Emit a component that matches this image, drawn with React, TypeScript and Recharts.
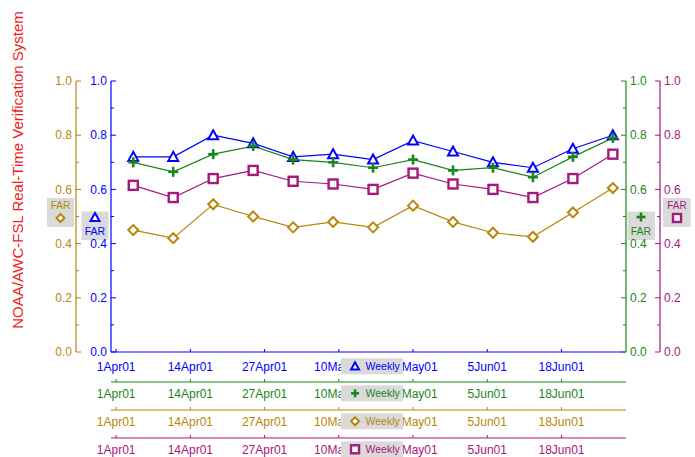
import React from "react";
import { LineChart, Line, XAxis, YAxis, Customized } from "recharts";

// days counted from 1 Apr 2001
const weekDays = [3, 10, 17, 24, 31, 38, 45, 52, 59, 66, 73, 80, 87];
const tickDays = [0, 13, 26, 39, 52, 65, 78];
const tickLabels = ["1Apr01", "14Apr01", "27Apr01", "10May01", "23May01", "5Jun01", "18Jun01"];
const yTicks = [0, 0.1, 0.2, 0.3, 0.4, 0.5, 0.6, 0.7, 0.8, 0.9, 1.0];

const farTriangle = [0.72, 0.72, 0.8, 0.77, 0.72, 0.73, 0.71, 0.78, 0.74, 0.7, 0.68, 0.75, 0.8];
const farPlus = [0.7, 0.665, 0.73, 0.76, 0.71, 0.7, 0.68, 0.71, 0.67, 0.68, 0.645, 0.72, 0.79];
const farSquare = [0.615, 0.57, 0.64, 0.67, 0.63, 0.62, 0.6, 0.66, 0.62, 0.6, 0.57, 0.64, 0.73];
const farDiamond = [0.45, 0.42, 0.545, 0.5, 0.46, 0.48, 0.46, 0.54, 0.48, 0.44, 0.425, 0.515, 0.605];

const BLUE = "#0000ff";
const GREEN = "#1b861b";
const GOLD = "#b8860b";
const PURPLE = "#a5187e";
const RED = "#f01c1c";
const GRAY = "#dadada";
const FONT = "'Liberation Sans', Arial, Helvetica, sans-serif";

const data = weekDays.map((day, i) => ({
  day,
  triangle: farTriangle[i],
  plus: farPlus[i],
  square: farSquare[i],
  diamond: farDiamond[i],
}));

// markers
const Triangle = ({ cx, cy, color, s = 5 }: any) => (
  <polygon
    points={`${cx},${cy - s} ${cx - s},${cy + s * 0.8} ${cx + s},${cy + s * 0.8}`}
    fill="white"
    stroke={color}
    strokeWidth={2}
  />
);
const Plus = ({ cx, cy, color, s = 5 }: any) => (
  <g stroke={color} strokeWidth={2.6}>
    <line x1={cx - s} x2={cx + s} y1={cy} y2={cy} />
    <line x1={cx} x2={cx} y1={cy - s} y2={cy + s} />
  </g>
);
const Diamond = ({ cx, cy, color, s = 5 }: any) => (
  <polygon
    points={`${cx},${cy - s} ${cx + s},${cy} ${cx},${cy + s} ${cx - s},${cy}`}
    fill="white"
    stroke={color}
    strokeWidth={2}
  />
);
const Square = ({ cx, cy, color, s = 4.5 }: any) => (
  <rect x={cx - s} y={cy - s} width={s * 2} height={s * 2} fill="white" stroke={color} strokeWidth={2.4} />
);

const dot = (Shape: any, color: string) => (p: any) => (
  <Shape key={p.key ?? `${p.index}`} cx={p.cx} cy={p.cy} color={color} />
);

// date ticks point up from the line; the "Weekly" key sits over the 10May/23May labels
const xTick = (color: string, margin: number, Shape: any) => (p: any) => {
  const axisY = p.y - margin;
  const idx = tickDays.indexOf(p.payload.value);
  const mid = p.y + 4.3;
  return (
    <g>
      <line x1={p.x} x2={p.x} y1={axisY} y2={axisY - 3} stroke={color} />
      <text x={p.x} y={p.y} dy="0.71em" textAnchor="middle" fill={color} fontSize={12} fontFamily={FONT}>
        {tickLabels[idx]}
      </text>
      {idx === 4 && (
        <g>
          <rect x={p.x - 72} y={mid - 8} width={62} height={16} fill={GRAY} />
          <Shape cx={p.x - 58} cy={mid} color={color} s={4} />
          <text x={p.x - 47.5} y={mid} dy="0.355em" fontSize={10.5} fill={color} fontFamily={FONT}>
            Weekly
          </text>
        </g>
      )}
    </g>
  );
};

const yTick = (color: string, side: "left" | "right") => (p: any) => {
  const v = p.payload.value;
  const major = Math.round(v * 10) % 2 === 0;
  const axisX = side === "left" ? p.x + 4 : p.x - 4;
  const len = major ? 5 : 3;
  const x2 = side === "left" ? axisX + len : axisX - len;
  return (
    <g>
      <line x1={axisX} x2={x2} y1={p.y} y2={p.y} stroke={color} />
      {major && (
        <text
          x={p.x}
          y={p.y}
          dy="0.355em"
          textAnchor={side === "left" ? "end" : "start"}
          fill={color}
          fontSize={12}
          fontFamily={FONT}
        >
          {v.toFixed(1)}
        </text>
      )}
    </g>
  );
};

const Overlay = () => (
  <g fontFamily={FONT}>
    <text transform="translate(23,170) rotate(-90)" textAnchor="middle" fill={RED} fontSize={15}>
      NOAA/AWC-FSL Real-Time Verification System
    </text>

    {/* FAR keys beside the axes */}
    <rect x={47} y={198} width={27} height={29} fill={GRAY} />
    <text x={60.5} y={209} textAnchor="middle" fontSize={10} fill={GOLD}>FAR</text>
    <Diamond cx={60.5} cy={218} color={GOLD} s={4} />

    <rect x={81.5} y={211.5} width={27} height={28.5} fill={GRAY} />
    <Triangle cx={95} cy={217.5} color={BLUE} s={4.5} />
    <text x={95} y={235} textAnchor="middle" fontSize={10.5} fill={BLUE}>FAR</text>

    <rect x={627.5} y={211.5} width={27.5} height={28.5} fill={GRAY} />
    <Plus cx={641} cy={217} color={GREEN} s={4.5} />
    <text x={641} y={235} textAnchor="middle" fontSize={10.5} fill={GREEN}>FAR</text>

    <rect x={663} y={198} width={27.5} height={29} fill={GRAY} />
    <text x={677} y={209} textAnchor="middle" fontSize={10} fill={PURPLE}>FAR</text>
    <Square cx={677} cy={218} color={PURPLE} s={4} />
  </g>
);

const xAxes = [
  { id: "x1", color: BLUE, height: 30, margin: 10, Shape: Triangle },
  { id: "x2", color: GREEN, height: 28, margin: 7, Shape: Plus },
  { id: "x3", color: GOLD, height: 28, margin: 7, Shape: Diamond },
  { id: "x4", color: PURPLE, height: 19, margin: 7, Shape: Square },
];

const yAxes = [
  { id: "y1", color: BLUE, side: "left" as const, width: 35 },
  { id: "y2", color: GOLD, side: "left" as const, width: 35 },
  { id: "y3", color: GREEN, side: "right" as const, width: 34 },
  { id: "y4", color: PURPLE, side: "right" as const, width: 34 },
];

export default function App() {
  return (
    <div style={{ position: "absolute", left: 0, top: 0, background: "white" }}>
      <LineChart width={695} height={457} data={data} margin={{ top: 81, right: 1, bottom: 0, left: 41 }}>
        {xAxes.map((a) => (
          <XAxis
            key={a.id}
            xAxisId={a.id}
            type="number"
            dataKey="day"
            domain={[-0.9, 89.3]}
            allowDataOverflow
            ticks={tickDays}
            interval={0}
            height={a.height}
            tickSize={0}
            tickMargin={a.margin}
            tickLine={false}
            axisLine={{ stroke: a.color, strokeWidth: 1.2 }}
            tick={xTick(a.color, a.margin, a.Shape)}
          />
        ))}
        {yAxes.map((a) => (
          <YAxis
            key={a.id}
            yAxisId={a.id}
            orientation={a.side}
            width={a.width}
            domain={[0, 1]}
            ticks={yTicks}
            interval={0}
            tickSize={0}
            tickMargin={4}
            tickLine={false}
            axisLine={{ stroke: a.color, strokeWidth: 1.2 }}
            tick={yTick(a.color, a.side)}
          />
        ))}
        <Line
          xAxisId="x3"
          yAxisId="y2"
          dataKey="diamond"
          stroke={GOLD}
          strokeWidth={1.2}
          dot={dot(Diamond, GOLD)}
          isAnimationActive={false}
        />
        <Line
          xAxisId="x4"
          yAxisId="y4"
          dataKey="square"
          stroke={PURPLE}
          strokeWidth={1.2}
          dot={dot(Square, PURPLE)}
          isAnimationActive={false}
        />
        <Line
          xAxisId="x1"
          yAxisId="y1"
          dataKey="triangle"
          stroke={BLUE}
          strokeWidth={1.2}
          dot={dot(Triangle, BLUE)}
          isAnimationActive={false}
        />
        <Line
          xAxisId="x2"
          yAxisId="y3"
          dataKey="plus"
          stroke={GREEN}
          strokeWidth={1.2}
          dot={dot(Plus, GREEN)}
          isAnimationActive={false}
        />
        <Customized component={Overlay} />
      </LineChart>
    </div>
  );
}
